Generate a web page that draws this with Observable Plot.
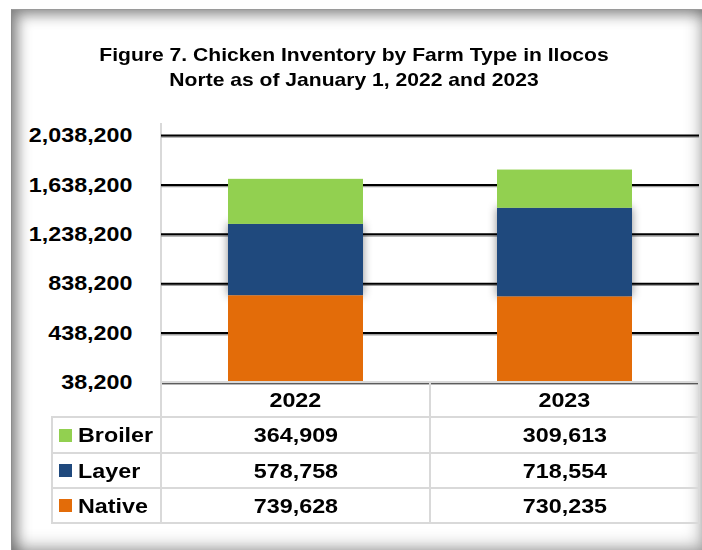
<!DOCTYPE html>
<html><head><meta charset="utf-8">
<script src="https://cdn.jsdelivr.net/npm/d3@7"></script>
<script src="https://cdn.jsdelivr.net/npm/@observablehq/plot@0.6"></script>
<style>
html,body{margin:0;padding:0;background:#fff;}
#wrap{position:relative;width:702px;height:550px;overflow:hidden;font-family:"Liberation Sans",Arial,sans-serif;background:#fff;}
#panel{position:absolute;left:11px;top:9px;width:693px;height:543px;box-sizing:border-box;
  border-left:1px solid #8c8c8c;border-top:1px solid #9a9a9a;
  box-shadow:inset 6px 5px 14px rgba(0,0,0,0.42), inset -4px -6px 16px rgba(0,0,0,0.3);}
#title{position:absolute;left:0;top:42px;width:708px;text-align:center;font-weight:bold;font-size:19px;line-height:25px;color:#000;}
#title .ln{display:block;transform:scaleX(1.11);transform-origin:center;}
#chart{position:absolute;left:0;top:0;}
#vline{position:absolute;left:160px;top:123px;width:2px;height:260px;background:#d9d9d9;}
.cell{position:absolute;box-sizing:border-box;border:2px solid #d9d9d9;display:flex;align-items:center;justify-content:center;font-weight:bold;font-size:21px;color:#000;}
.cell.blank{border:none;}
.cell.lab{justify-content:flex-start;padding-left:6px;}
.cell .s{display:inline-block;transform:scaleX(1.11);transform-origin:center;white-space:nowrap;}
.cell.lab .s{transform-origin:left center;margin-left:6px;}
.sw{display:inline-block;width:13px;height:13px;}
</style></head><body>
<div id="wrap">
  <div id="panel"></div>
  <div id="title"><span class="ln">Figure 7. Chicken Inventory by Farm Type in Ilocos</span><span class="ln">Norte as of January 1, 2022 and 2023</span></div>
  <div id="vline"></div>
  <div id="chart"></div>
  <div id="tbl"></div>
</div>
<script>
// ---- data ----
const years = ["2022", "2023"];
const stackOrder = ["Native", "Layer", "Broiler"];      // bottom -> top
const nativeValues = [739628, 730235];
const layerValues = [578758, 718554];
const broilerValues = [364909, 309613];
const yTicks = [38200, 438200, 838200, 1238200, 1638200, 2038200];
const typeColors = ["#E36C09", "#1F497D", "#92D050"];   // Native, Layer, Broiler
const tableRows = ["Broiler", "Layer", "Native"];

const valuesByType = {Native: nativeValues, Layer: layerValues, Broiler: broilerValues};
const data = [];
years.forEach((yr, i) => stackOrder.forEach(t => data.push({year: yr, type: t, value: valuesByType[t][i]})));

const fmt = d3.format(",");

const plot = Plot.plot({
  width: 702, height: 397,
  marginLeft: 161, marginRight: 3, marginTop: 135, marginBottom: 15,
  style: {background: "transparent", overflow: "visible", fontFamily: "Liberation Sans, Arial, sans-serif", color: "#000"},
  x: {domain: years, padding: 0, axis: null},
  y: {domain: [38200, 2038200], clamp: true, label: null},
  color: {domain: stackOrder, range: typeColors},
  marks: [
    Plot.ruleY(yTicks, {stroke: "#a0a0a0", strokeWidth: 1.5, dy: 1.6}),
    Plot.ruleY(yTicks, {stroke: "#000", strokeWidth: 2}),
    Plot.axisY({ticks: yTicks, tickFormat: fmt, tickSize: 0, tickPadding: 29, fontSize: 21, fontWeight: "bold", fill: "#000", label: null}),
    Plot.barY(data, {x: "year", y: "value", fill: "type", insetLeft: 67, insetRight: 67})
  ]
});
document.getElementById("chart").appendChild(plot);

// stretch tick labels horizontally like the reference
plot.querySelectorAll('g[aria-label="y-axis tick label"] text').forEach(t => {
  const len = t.getComputedTextLength();
  t.setAttribute("textLength", (len * 1.11).toFixed(1));
  t.setAttribute("lengthAdjust", "spacingAndGlyphs");
});
// soft shadow around the Layer segments (drawn beneath neighbours)
const layerColor = typeColors[stackOrder.indexOf("Layer")];
plot.querySelectorAll("rect").forEach(r => {
  if ((r.getAttribute("fill") || "").toLowerCase() === layerColor.toLowerCase()) {
    r.style.filter = "drop-shadow(0 0 5px rgba(0,0,0,0.45))";
    r.parentNode.insertBefore(r, r.parentNode.firstChild);
  }
});

// ---- data table ----
const colX = [52, 161, 430, 699];
const rowY = [382, 417, 453, 488, 523];
const tbl = document.getElementById("tbl");
function cell(x0, x1, y0, y1, cls, html) {
  const d = document.createElement("div");
  d.className = "cell " + cls;
  d.style.left = (x0 - 1) + "px";
  d.style.top = (y0 - 1) + "px";
  d.style.width = (x1 - x0 + 2) + "px";
  d.style.height = (y1 - y0 + 2) + "px";
  d.innerHTML = html;
  tbl.appendChild(d);
}
cell(colX[0], colX[1], rowY[0], rowY[1], "blank", "");
years.forEach((yr, j) => cell(colX[j + 1], colX[j + 2], rowY[0], rowY[1], "", `<span class="s">${yr}</span>`));
tableRows.forEach((t, i) => {
  const col = typeColors[stackOrder.indexOf(t)];
  cell(colX[0], colX[1], rowY[i + 1], rowY[i + 2], "lab", `<span class="sw" style="background:${col}"></span><span class="s">${t}</span>`);
  years.forEach((yr, j) => cell(colX[j + 1], colX[j + 2], rowY[i + 1], rowY[i + 2], "", `<span class="s">${fmt(valuesByType[t][j])}</span>`));
});
</script>
</body></html>
